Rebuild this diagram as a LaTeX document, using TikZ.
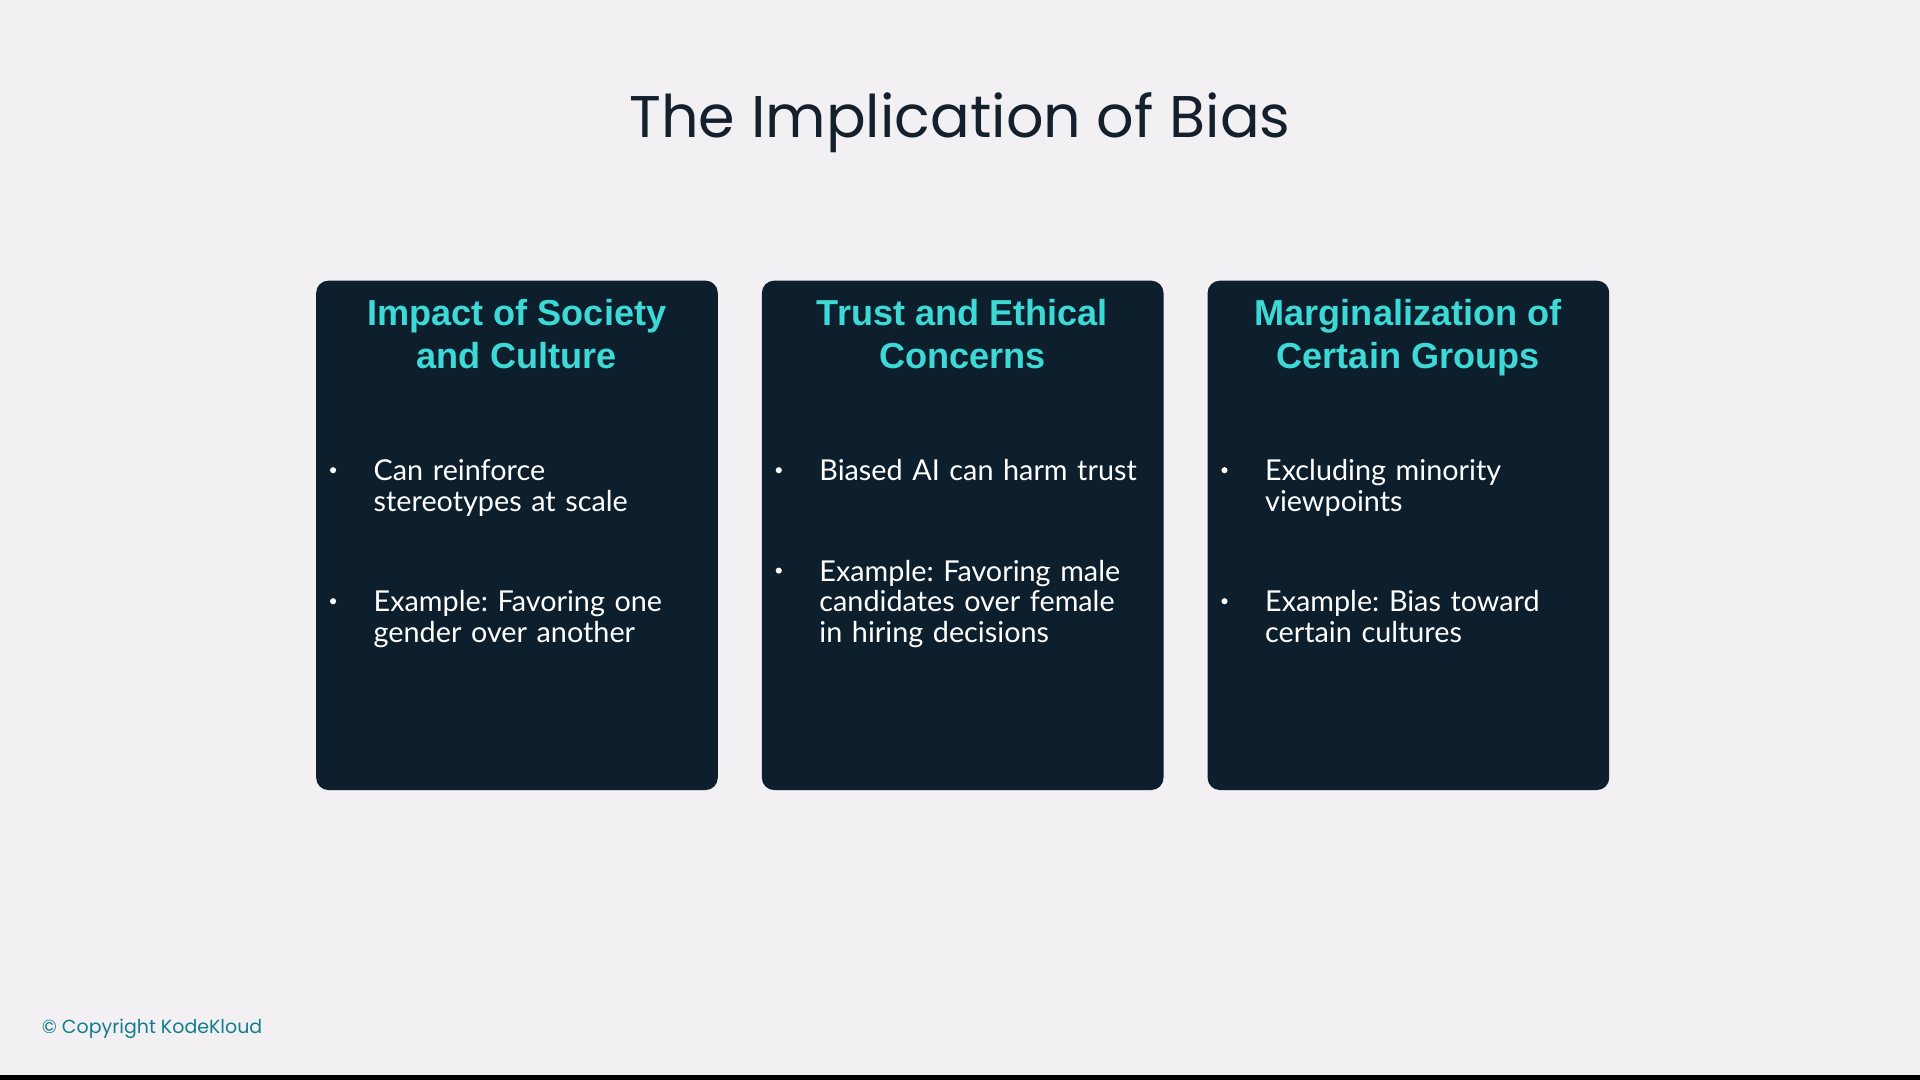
\documentclass[tikz,border=0pt]{standalone}
\usepackage{fontspec}
\setmainfont{Lato}
\newfontfamily\titlefont{Poppins}
\newfontfamily\headfont{Liberation Sans}
\definecolor{bg}{HTML}{F3F0F4}
\definecolor{card}{HTML}{0D1F2D}
\definecolor{cyanT}{HTML}{3DD9D6}
\definecolor{teal}{HTML}{127E8A}
\definecolor{dark}{HTML}{14202C}
\tikzset{
 cardbox/.style={fill=card,rounded corners=10pt,minimum width=328pt,minimum height=416pt,anchor=north west,inner sep=0pt},
 ctitle/.style={text=cyanT,font=\headfont\fontsize{29.5}{35}\selectfont\bfseries,align=center,anchor=north},
 bul/.style={text=white,font=\fontsize{23.5}{25}\selectfont\frenchspacing,align=left,anchor=north west,text width=280pt,inner sep=0pt},
 dot/.style={fill=white,circle,inner sep=0pt,minimum size=5pt}
}
\begin{document}
\begin{tikzpicture}[x=1pt,y=-1pt]
\fill[bg] (0,0) rectangle (1568,882);
\fill[black] (0,878) rectangle (1568,882);
\useasboundingbox (0,0) rectangle (1568,882);
\node[font=\titlefont\fontsize{48}{56}\selectfont,text=dark] (title) at (784,100) {The Implication of Bias};
\foreach \x/\n/\t in {258/c1/{Impact of Society\\and Culture},622/c2/{Trust and Ethical\\Concerns},986/c3/{Marginalization of\\Certain Groups}}{
 \node[cardbox] (\n) at (\x,229) {};
 \node[ctitle] (\n t) at (\x+164,241) {\t};
}
\node[dot] (d11) at (272,384) {}; \node[bul] (b11) at (305,375) {Can reinforce\\stereotypes at scale};
\node[dot] (d12) at (272,491) {}; \node[bul] (b12) at (305,482) {Example: Favoring one\\gender over another};
\node[dot] (d21) at (636,384) {}; \node[bul] (b21) at (669,375) {Biased AI can harm trust};
\node[dot] (d22) at (636,466) {}; \node[bul] (b22) at (669,457) {Example: Favoring male\\candidates over female\\in hiring decisions};
\node[dot] (d31) at (1000,384) {}; \node[bul] (b31) at (1033,375) {Excluding minority\\viewpoints};
\node[dot] (d32) at (1000,491) {}; \node[bul] (b32) at (1033,482) {Example: Bias toward\\certain cultures};
\node[anchor=west,text=teal,font=\titlefont\fontsize{15.5}{18}\selectfont,inner sep=0pt] (copy) at (34,840) {© Copyright KodeKloud};
\end{tikzpicture}
\end{document}
